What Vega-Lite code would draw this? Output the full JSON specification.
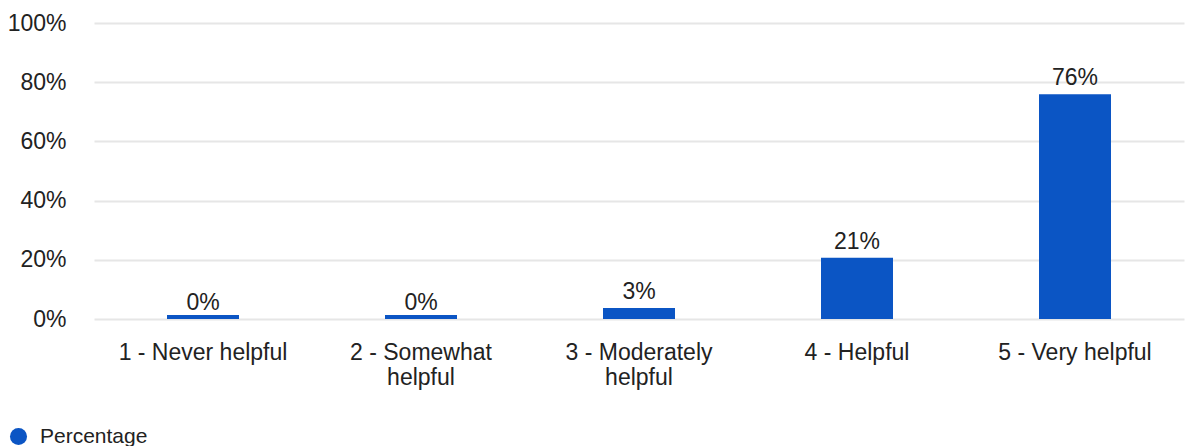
{
  "$schema": "https://vega.github.io/schema/vega-lite/v6.json",
  "width": 1120,
  "height": 296,
  "autosize": {"type": "none"},
  "padding": {"left": 73, "top": 23, "right": 0, "bottom": 127},
  "background": "white",
  "config": {
    "view": {"stroke": null},
    "font": "Liberation Sans",
    "legend": {"padding": 0}
  },
  "data": {
    "values": [
      {"rating": "1 - Never helpful", "pct": 0, "label": "0%", "series": "Percentage"},
      {"rating": "2 - Somewhat helpful", "pct": 0, "label": "0%", "series": "Percentage"},
      {"rating": "3 - Moderately helpful", "pct": 3.7, "label": "3%", "series": "Percentage"},
      {"rating": "4 - Helpful", "pct": 20.7, "label": "21%", "series": "Percentage"},
      {"rating": "5 - Very helpful", "pct": 75.9, "label": "76%", "series": "Percentage"}
    ]
  },
  "encoding": {
    "x": {
      "field": "rating",
      "type": "nominal",
      "sort": null,
      "scale": {"range": [21, 1111], "paddingInner": 0.67, "paddingOuter": 0.335},
      "axis": {
        "title": null,
        "labelAngle": 0,
        "domain": false,
        "ticks": false,
        "labelFontSize": 23,
        "labelColor": "#222222",
        "labelPadding": 22,
        "labelLineHeight": 25,
        "labelExpr": "datum.value == '2 - Somewhat helpful' ? ['2 - Somewhat', 'helpful'] : datum.value == '3 - Moderately helpful' ? ['3 - Moderately', 'helpful'] : datum.value"
      }
    },
    "y": {
      "field": "pct",
      "type": "quantitative",
      "scale": {"domain": [0, 100]},
      "axis": {
        "title": null,
        "values": [0, 20, 40, 60, 80, 100],
        "labelExpr": "datum.value + '%'",
        "domain": false,
        "ticks": false,
        "labelFontSize": 23,
        "labelColor": "#222222",
        "labelPadding": 7,
        "gridColor": "#e6e6e6",
        "gridWidth": 2
      }
    }
  },
  "layer": [
    {
      "mark": {"type": "bar", "width": 72},
      "encoding": {
        "color": {
          "field": "series",
          "type": "nominal",
          "scale": {"range": ["#0b55c4"]},
          "legend": {
            "title": null,
            "orient": "none",
            "legendX": -65,
            "legendY": 403,
            "symbolType": "circle",
            "symbolSize": 290,
            "symbolStrokeWidth": 0,
            "labelFontSize": 21,
            "labelColor": "#222222",
            "labelOffset": 11
          }
        }
      }
    },
    {
      "mark": {"type": "tick", "orient": "horizontal", "size": 72, "thickness": 4, "yOffset": -2, "color": "#0b55c4", "opacity": 1},
      "encoding": {
        "y": {"datum": 0}
      }
    },
    {
      "mark": {"type": "text", "baseline": "alphabetic", "dy": -9, "fontSize": 23, "color": "#222222"},
      "encoding": {
        "text": {"field": "label", "type": "nominal"}
      }
    }
  ]
}
